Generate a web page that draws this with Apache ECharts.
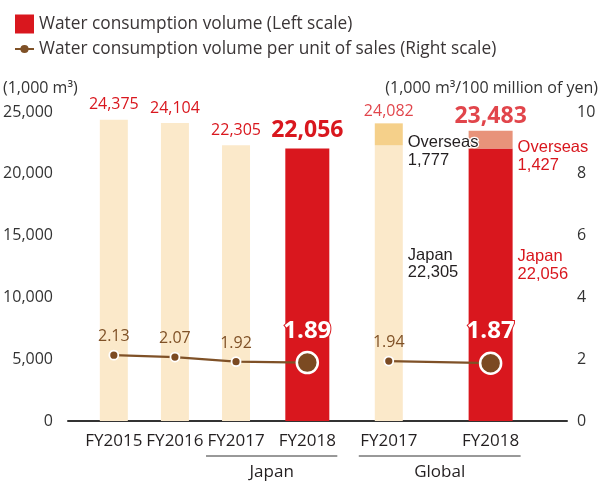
<!DOCTYPE html>
<html><head><meta charset="utf-8">
<script src="https://cdn.jsdelivr.net/npm/echarts@6/dist/echarts.min.js"></script>
<style>html,body{margin:0;padding:0;background:#fff}#c{width:605px;height:495px}</style>
</head><body><div id="c"></div>
<script>
// ---- data ----
const categories = ['FY2015', 'FY2016', 'FY2017', 'FY2018', 'FY2017', 'FY2018'];
const groupNames = ['Japan', 'Global'];
const japanVolume = [24375, 24104, 22305, 22056, 22305, 22056];
const overseasVolume = [null, null, null, null, 1777, 1427];
const perUnitJapan = [2.13, 2.07, 1.92, 1.89];
const perUnitGlobal = [1.94, 1.87];
const leftTicks = [0, 5000, 10000, 15000, 20000, 25000];
const rightTicks = [0, 2, 4, 6, 8, 10];
const legendNames = ['Water consumption volume (Left scale)', 'Water consumption volume per unit of sales (Right scale)'];

// ---- layout (not data) ----
const nSlots = 49;
const slotOf = [4, 10, 16, 23, 31, 41];
const highlighted = [false, false, false, true, false, true];
const globalStart = 4;

const FONT = '"Open Sans", "Noto Sans", sans-serif';
const ARIAL = '"Liberation Sans", Arial, sans-serif';
const RED = '#d9171e', LIGHT = '#fbe9ca', OV_LIGHT = '#f5d08a', OV_RED = '#e8937a';
const BROWN = '#7b4a22', LINE = '#7f5127', TXT = '#231f20';

const fmt = v => v.toLocaleString('en-US');
const empty = () => new Array(nSlots).fill(null);

const xData = empty().map(() => '');
categories.forEach((c, i) => xData[slotOf[i]] = c);

const lightJp = empty(), lightOv = empty(), redJp = empty(), redOv = empty(), totals = empty();
categories.forEach((c, i) => {
  const s = slotOf[i];
  const isGlobal = i >= globalStart;
  const target = highlighted[i] ? redJp : lightJp;
  if (isGlobal) {
    target[s] = { value: japanVolume[i], label: { show: true, position: 'right', distance: 5, offset: [0, -19],
      formatter: 'Japan\n' + fmt(japanVolume[i]), color: highlighted[i] ? RED : TXT, fontFamily: ARIAL, fontSize: 16.5, lineHeight: 17.5, align: 'left' } };
    const ot = highlighted[i] ? redOv : lightOv;
    ot[s] = { value: overseasVolume[i], label: { show: true, position: 'right', distance: 5, offset: [0, 17],
      formatter: 'Overseas\n' + fmt(overseasVolume[i]), color: highlighted[i] ? RED : TXT, fontFamily: ARIAL, fontSize: 16.5, lineHeight: 17.5, align: 'left',
      textBorderColor: '#fff', textBorderWidth: highlighted[i] ? 0 : 2.5 } };
    const tot = japanVolume[i] + overseasVolume[i];
    totals[s] = { value: tot, label: { show: true, position: 'top', distance: highlighted[i] ? 3 : 4,
      formatter: fmt(tot), color: RED, fontFamily: FONT,
      fontSize: highlighted[i] ? 23 : 16, fontWeight: highlighted[i] ? 'bold' : 'normal' } };
  } else {
    target[s] = { value: japanVolume[i], label: { show: true, position: 'top', distance: highlighted[i] ? 6 : 7,
      formatter: fmt(japanVolume[i]), color: RED, fontFamily: FONT,
      fontSize: highlighted[i] ? 23 : 16, fontWeight: highlighted[i] ? 'bold' : 'normal' } };
  }
});

function linePoint(v, i) {
  const big = highlighted[i];
  return {
    value: v,
    symbolSize: big ? 21 : 9,
    itemStyle: { color: BROWN, borderColor: '#fff', borderWidth: big ? 2.5 : 1.8 },
    label: big
      ? { show: true, position: 'top', distance: 8, formatter: v.toFixed(2), color: '#fff', fontFamily: FONT,
          fontSize: 24, fontWeight: 'bold', textBorderColor: RED, textBorderWidth: 2 }
      : { show: true, position: 'top', distance: 5, formatter: v.toFixed(2), color: LINE, fontFamily: FONT, fontSize: 16 }
  };
}
const lineJp = empty(), lineGl = empty();
perUnitJapan.forEach((v, i) => lineJp[slotOf[i]] = linePoint(v, i));
perUnitGlobal.forEach((v, k) => { const i = globalStart + k; lineGl[slotOf[i]] = linePoint(v, i); });

const chart = echarts.init(document.getElementById('c'), null, { renderer: 'canvas' });
const axisLabelStyle = { color: '#333', fontFamily: FONT, fontSize: 16 };
const lineIcon = 'path://M0,9L19,9L19,11.2L0,11.2Z M13.6,10.1A4.1,4.1,0,1,1,5.4,10.1A4.1,4.1,0,1,1,13.6,10.1Z';

const option = {
  animation: false,
  textStyle: { fontFamily: FONT },
  legend: {
    orient: 'vertical', left: 10, top: 9.5, itemGap: 7, itemWidth: 19, itemHeight: 19,
    selectedMode: false, symbolKeepAspect: true,
    textStyle: { fontSize: 17.3, color: '#3a3536', fontFamily: FONT },
    data: [
      { name: legendNames[0], icon: 'rect', itemStyle: { color: RED } },
      { name: legendNames[1], icon: lineIcon, itemStyle: { color: LINE } }
    ]
  },
  grid: { left: 68, right: 38, top: 112, bottom: 74, containLabel: false },
  xAxis: [
    { type: 'category', data: xData, boundaryGap: true,
      axisLine: { lineStyle: { color: '#333', width: 2 } }, axisTick: { show: false },
      axisLabel: { interval: 0, margin: 12, color: TXT, fontFamily: FONT, fontSize: 17 } },
    { type: 'category', data: xData, show: false, position: 'bottom' }
  ],
  yAxis: [
    { type: 'value', min: leftTicks[0], max: leftTicks[leftTicks.length - 1], interval: leftTicks[1] - leftTicks[0],
      name: '(1,000 m³)', nameLocation: 'end', nameGap: 16,
      nameTextStyle: { align: 'left', padding: [0, 0, 0, -65], color: '#333', fontFamily: FONT, fontSize: 16 },
      axisLine: { show: false }, axisTick: { show: false }, splitLine: { show: false },
      axisLabel: { margin: 15, formatter: v => fmt(v), ...axisLabelStyle } },
    { type: 'value', min: rightTicks[0], max: rightTicks[rightTicks.length - 1], interval: rightTicks[1] - rightTicks[0],
      name: '(1,000 m³/100 million of yen)', nameLocation: 'end', nameGap: 16,
      nameTextStyle: { align: 'right', padding: [0, -31, 0, 0], color: '#333', fontFamily: FONT, fontSize: 16 },
      axisLine: { show: false }, axisTick: { show: false }, splitLine: { show: false },
      axisLabel: { margin: 10, ...axisLabelStyle } }
  ],
  series: [
    { name: 'lightJp', type: 'bar', xAxisIndex: 0, yAxisIndex: 0, stack: 'L', barWidth: 28, data: lightJp, itemStyle: { color: LIGHT }, z: 2 },
    { name: 'lightOv', type: 'bar', xAxisIndex: 0, yAxisIndex: 0, stack: 'L', barWidth: 28, data: lightOv, itemStyle: { color: OV_LIGHT }, z: 2 },
    { name: legendNames[0], type: 'bar', xAxisIndex: 1, yAxisIndex: 0, stack: 'R', barWidth: 44, data: redJp, itemStyle: { color: RED }, z: 2 },
    { name: 'redOv', type: 'bar', xAxisIndex: 1, yAxisIndex: 0, stack: 'R', barWidth: 44, data: redOv, itemStyle: { color: OV_RED }, z: 2 },
    { name: 'totals', type: 'scatter', xAxisIndex: 0, yAxisIndex: 0, symbolSize: 0, data: totals, z: 4 },
    { name: legendNames[1], type: 'line', xAxisIndex: 0, yAxisIndex: 1, data: lineJp, connectNulls: true, symbol: 'circle',
      lineStyle: { color: LINE, width: 2.2 }, itemStyle: { color: BROWN }, z: 5 },
    { name: legendNames[1], type: 'line', xAxisIndex: 0, yAxisIndex: 1, data: lineGl, connectNulls: true, symbol: 'circle',
      lineStyle: { color: LINE, width: 2.2 }, itemStyle: { color: BROWN }, z: 5 }
  ]
};
chart.setOption(option);

// group labels under the axis, positioned through the axis scale
const groupRanges = [[2, 3], [4, 5]];
const elements = [];
groupRanges.forEach((r, g) => {
  const x0 = chart.convertToPixel({ xAxisIndex: 0 }, slotOf[r[0]]) - 30;
  const x1 = chart.convertToPixel({ xAxisIndex: 0 }, slotOf[r[1]]) + 30;
  elements.push({ type: 'line', shape: { x1: x0, y1: 456, x2: x1, y2: 456 }, style: { stroke: '#333', lineWidth: 1 } });
  elements.push({ type: 'text', x: (x0 + x1) / 2, y: 472,
    style: { text: groupNames[g], fill: TXT, font: '17px ' + FONT, textAlign: 'center', textVerticalAlign: 'middle' } });
});
chart.setOption({ graphic: elements });
</script></body></html>
